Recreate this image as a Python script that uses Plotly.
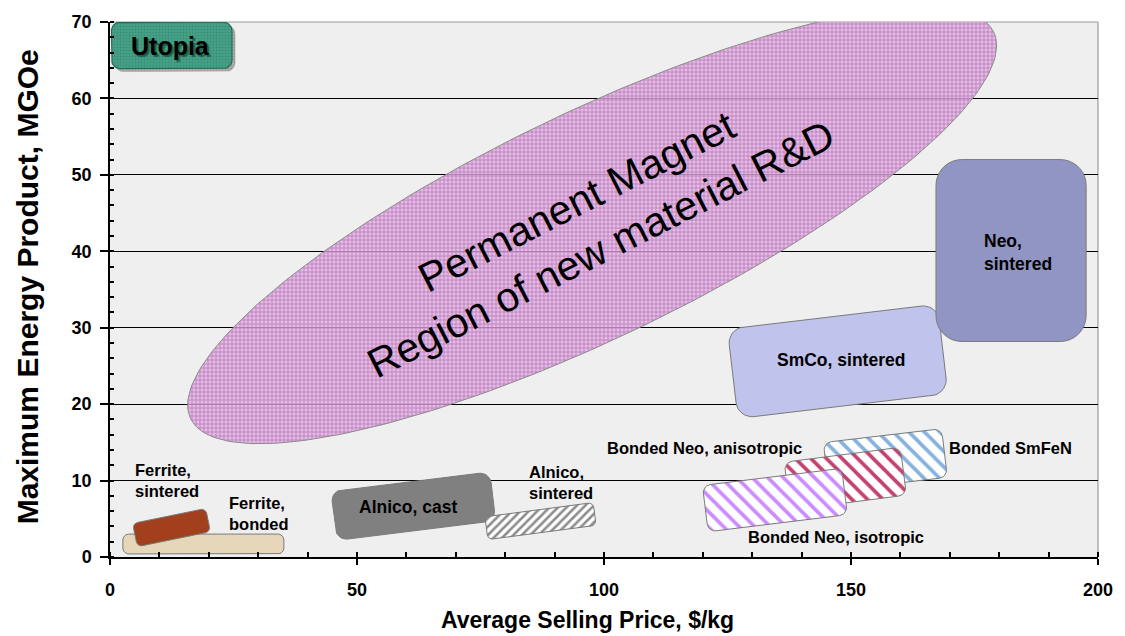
import numpy as np
import plotly.graph_objects as go

# ---- data -------------------------------------------------------------
materials = ["Ferrite, bonded", "Ferrite, sintered", "Alnico, cast", "Alnico, sintered",
             "SmCo, sintered", "Neo, sintered", "Bonded SmFeN",
             "Bonded Neo, anisotropic", "Bonded Neo, isotropic"]
price_low = [2.6, 4.9, 45.2, 76.1, 125.9, 167.2, 144.9, 137.0, 120.4]      # $/kg
price_high = [35.2, 20.0, 77.6, 98.2, 168.7, 197.6, 169.0, 160.7, 148.8]
energy_low = [0.4, 2.3, 3.4, 3.2, 19.7, 28.2, 9.5, 7.1, 4.4]               # MGOe
energy_high = [3.0, 5.4, 9.9, 6.2, 31.5, 52.0, 15.9, 13.4, 10.5]

utopia_price = [0.3, 24.7]
utopia_energy = [63.9, 70.0]

# target R&D region: centre and semi-axes (in $/kg along the ellipse's own axes)
rd_center = [97.6, 43.4]
rd_semi_axes = [90.2, 22.8]

x_ticks = [0, 50, 100, 150, 200]
y_ticks = [0, 10, 20, 30, 40, 50, 60, 70]

# ---- page geometry ------------------------------------------------------
W, H = 1125, 636
M = dict(l=110, r=21, t=19, b=79)
X_RANGE, Y_RANGE = (0, 200), (0, 70)
KX = (W - M["l"] - M["r"]) / (X_RANGE[1] - X_RANGE[0])   # px per $/kg
KY = (H - M["t"] - M["b"]) / (Y_RANGE[1] - Y_RANGE[0])   # px per MGOe

FONT = "Arial, Liberation Sans, Helvetica, sans-serif"

# per-box styling: tilt (deg), corner radius (px), fill
styles = [
    dict(tilt=0.0, r=6, kind="solid", color="#e6d6ba"),
    dict(tilt=11.6, r=5, kind="solid", color="#a2401d"),
    dict(tilt=6.8, r=11, kind="solid", color="#808080"),
    dict(tilt=7.5, r=5, kind="hatch", color="#8c8c8c", shape="/", size=6, solid=0.42),
    dict(tilt=6.7, r=16, kind="solid", color="#c0c4ec"),
    dict(tilt=0.0, r=26, kind="solid", color="#9095c3"),
    dict(tilt=6.7, r=8, kind="hatch", color="#86b2de", shape="\\", size=11, solid=0.33),
    dict(tilt=7.3, r=8, kind="hatch", color="#c4406e", shape="\\", size=11, solid=0.33),
    dict(tilt=7.0, r=8, kind="hatch", color="#cc8cff", shape="\\", size=11, solid=0.33),
]


def _rotate(px, py, tilt):
    a = np.radians(tilt)
    return px * np.cos(a) - py * np.sin(a), px * np.sin(a) + py * np.cos(a)


def rounded_box(x0, x1, y0, y1, tilt=0.0, radius=8, n=10, dx_px=0.0, dy_px=0.0):
    """Outline of a rounded rectangle, built in screen pixels so corners stay
    round and the tilt is visual, then mapped back to data units."""
    cx, cy = (x0 + x1) / 2 * KX, (y0 + y1) / 2 * KY
    hw, hh = (x1 - x0) / 2 * KX, (y1 - y0) / 2 * KY
    r = min(radius, hw, hh)
    px, py = [], []
    for sx, sy, a0 in [(1, 1, 0), (-1, 1, 90), (-1, -1, 180), (1, -1, 270)]:
        t = np.radians(np.linspace(a0, a0 + 90, n))
        px.extend(sx * (hw - r) + r * np.cos(t))
        py.extend(sy * (hh - r) + r * np.sin(t))
    px.append(px[0]); py.append(py[0])
    rx, ry = _rotate(np.array(px), np.array(py), tilt)
    return (cx + rx + dx_px) / KX, (cy + ry - dy_px) / KY


def tilted_ellipse(center, semi, tilt, n=240):
    t = np.linspace(0, 2 * np.pi, n)
    a, b = semi[0] * KX, semi[1] * KX
    rx, ry = _rotate(a * np.cos(t), b * np.sin(t), tilt)
    return center[0] + rx / KX, center[1] + ry / KY


fig = go.Figure()

# R&D ellipse (translucent so the grid shows through)
ex, ey = tilted_ellipse(rd_center, rd_semi_axes, 25.7)
fig.add_trace(go.Scatter(
    x=ex, y=ey, mode="lines", fill="toself",
    line=dict(color="#8a8a8a", width=1),
    fillpattern=dict(shape="+", size=4, solidity=0.4,
                     fgcolor="#b86ab8", fgopacity=0.8,
                     bgcolor="rgba(222,176,222,0.78)"),
    hoverinfo="skip", showlegend=False))

# material boxes
for name, xl, xh, yl, yh, st in zip(materials, price_low, price_high,
                                    energy_low, energy_high, styles):
    bx, by = rounded_box(xl, xh, yl, yh, st["tilt"], st["r"])
    kw = dict(x=bx, y=by, mode="lines", fill="toself", name=name,
              line=dict(color="#7a7a7a", width=1), hoverinfo="name",
              showlegend=False)
    if st["kind"] == "solid":
        kw["fillcolor"] = st["color"]
    else:
        kw["fillcolor"] = "white"
        kw["fillpattern"] = dict(shape=st["shape"], size=st["size"], solidity=st["solid"],
                                 fgcolor=st["color"], bgcolor="white",
                                 fillmode="replace")
    fig.add_trace(go.Scatter(**kw))

# Utopia corner: drop shadow then the box
sx, sy = rounded_box(*utopia_price, *utopia_energy, 0, 9, dx_px=3, dy_px=3)
fig.add_trace(go.Scatter(x=sx, y=sy, mode="lines", fill="toself",
                         line=dict(color="#9a9a9a", width=0.5),
                         fillpattern=dict(shape=".", size=3, solidity=0.5,
                                          fgcolor="#7a7a7a", bgcolor="#b4b4b4"),
                         hoverinfo="skip", showlegend=False))
ux, uy = rounded_box(*utopia_price, *utopia_energy, 0, 9)
fig.add_trace(go.Scatter(x=ux, y=uy, mode="lines", fill="toself",
                         line=dict(color="#236b56", width=1.2),
                         fillpattern=dict(shape=".", size=3, solidity=0.4,
                                          fgcolor="#2b7a63", bgcolor="#46a387"),
                         hoverinfo="skip", showlegend=False))

# ---- text -------------------------------------------------------------
labels = [
    ("Ferrite,<br>sintered", 4.6, 10.0, "left", 16.5),
    ("Ferrite,<br>bonded", 23.7, 5.7, "left", 16.5),
    ("Alnico, cast", 60.4, 6.5, "center", 17.5),
    ("Alnico,<br>sintered", 84.5, 9.8, "left", 16.5),
    ("SmCo, sintered", 147.9, 25.8, "center", 17.5),
    ("Neo,<br>sintered", 176.5, 39.9, "left", 17.5),
    ("Bonded Neo, anisotropic", 120.3, 14.2, "center", 16.5),
    ("Bonded SmFeN", 182.3, 14.2, "center", 16.5),
    ("Bonded Neo, isotropic", 146.9, 2.6, "center", 16.5),
]
for text, x, y, anchor, size in labels:
    fig.add_annotation(x=x, y=y, text=text, showarrow=False, xanchor=anchor,
                       yanchor="middle", align=anchor,
                       font=dict(family=FONT, size=size, color="black", weight="bold"))

fig.add_annotation(x=12.3, y=66.8, text="Utopia", showarrow=False,
                   font=dict(family=FONT, size=25, color="black", weight="bold",
                             shadow="2px 2px 1px #1e5e4a"))

fig.add_annotation(x=96.8, y=43.4, text="Permanent Magnet<br>Region of new material R&D",
                   showarrow=False, textangle=-27,
                   font=dict(family=FONT, size=41, color="black"))

# axis titles
fig.add_annotation(xref="paper", yref="paper", x=(590 - M["l"]) / (W - M["l"] - M["r"]),
                   y=-(620 - (H - M["b"])) / (H - M["t"] - M["b"]),
                   text="Average Selling Price, $/kg", showarrow=False,
                   xanchor="center", yanchor="middle",
                   font=dict(family=FONT, size=23, color="black", weight="bold"))
fig.add_annotation(xref="paper", yref="paper", x=(27 - M["l"]) / (W - M["l"] - M["r"]),
                   y=0.505, text="Maximum Energy Product, MGOe", showarrow=False,
                   textangle=-90, xanchor="center", yanchor="middle",
                   font=dict(family=FONT, size=30, color="black", weight="bold"))

# grey frame on top and right
fig.add_shape(type="line", xref="paper", yref="paper", x0=0, x1=1, y0=1, y1=1,
              line=dict(color="#9a9a9a", width=1.2), layer="below")
fig.add_shape(type="line", xref="paper", yref="paper", x0=1, x1=1, y0=0, y1=1,
              line=dict(color="#9a9a9a", width=1.2), layer="below")

tick_font = dict(family=FONT, size=18, color="black", weight="bold")
fig.update_layout(
    width=W, height=H, margin=M,
    paper_bgcolor="white", plot_bgcolor="#efefef",
    showlegend=False,
    xaxis=dict(range=list(X_RANGE), tickvals=x_ticks, showgrid=False, zeroline=False,
               showline=True, linecolor="black", linewidth=2,
               ticks="outside", ticklen=6, tickwidth=1.5, tickcolor="black",
               ticklabelstandoff=9, tickfont=tick_font,
               minor=dict(dtick=10, ticks="inside", ticklen=5, tickcolor="black",
                          showgrid=False)),
    yaxis=dict(range=list(Y_RANGE), tickvals=y_ticks, showgrid=True,
               gridcolor="black", gridwidth=1, zeroline=False,
               showline=True, linecolor="black", linewidth=1.5,
               ticks="outside", ticklen=8, tickwidth=1.5, tickcolor="black",
               ticklabelstandoff=5, tickfont=tick_font,
               minor=dict(dtick=2, ticks="inside", ticklen=4, tickcolor="black",
                          showgrid=False)),
)

fig.write_html("out.html")
